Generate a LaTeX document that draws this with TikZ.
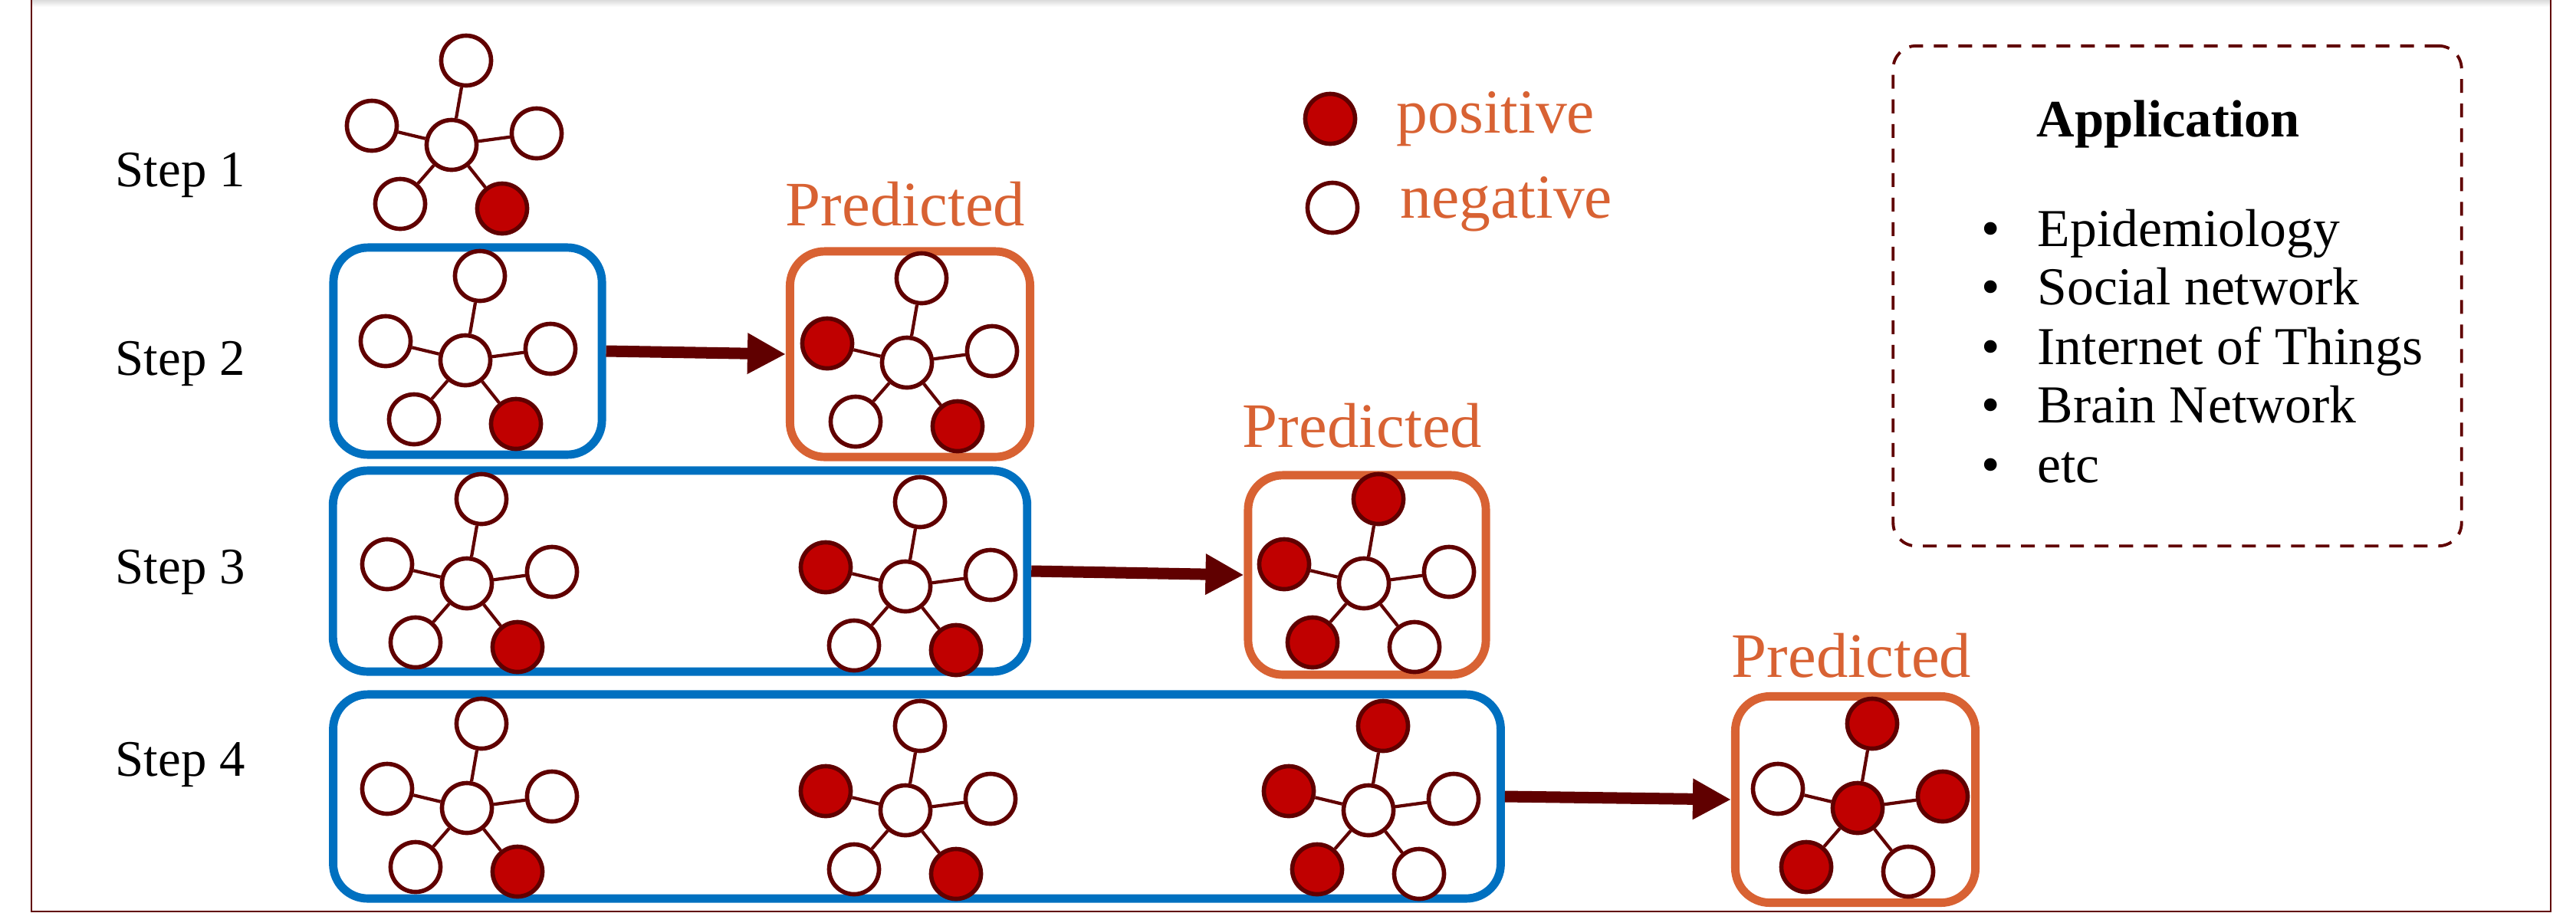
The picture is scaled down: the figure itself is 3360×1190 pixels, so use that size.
\documentclass[tikz,border=0pt]{standalone}
\usepackage{fontspec}
\setmainfont{Liberation Serif}
\usetikzlibrary{calc,arrows.meta}
\definecolor{cdark}{HTML}{600000}
\definecolor{cred}{HTML}{C00000}
\definecolor{cblue}{HTML}{0070C0}
\definecolor{corange}{HTML}{D86233}
\tikzset{
  negnode/.style={circle, draw=cdark, line width=1.6pt, fill=white, minimum size=0.65cm, inner sep=0pt},
  posnode/.style={negnode, fill=cred},
  graphedge/.style={draw=cdark, line width=1.2pt},
  bluebox/.style={draw=cblue, line width=3.1pt, rounded corners=0.45cm, inner sep=0pt},
  orangebox/.style={draw=corange, line width=3.1pt, rounded corners=0.45cm, inner sep=0pt},
  bigarrow/.style={draw=cdark, line width=0.15cm, -{Triangle[length=0.5cm,width=0.5cm]}},
  steplabel/.style={anchor=base west, inner sep=0pt, font=\fontsize{19}{20}\selectfont},
  predlabel/.style={anchor=base, inner sep=0pt, text=corange, font=\fontsize{23.5}{24}\selectfont},
  legendlabel/.style={anchor=base west, inner sep=0pt, text=corange, font=\fontsize{23.2}{24}\selectfont},
  applabel/.style={anchor=base west, inner sep=0pt, font=\fontsize{19.8}{20}\selectfont},
  apptitle/.style={anchor=base, inner sep=0pt, font=\fontsize{19.5}{20}\selectfont\bfseries},
  appbox/.style={draw=cdark, line width=1.1pt, dash pattern=on 0.18cm off 0.14cm, rounded corners=0.3cm, inner sep=0pt},
}
% #1 name, #2 x,y of centre, #3 centre style, #4 top, #5 left, #6 right, #7 bottom-left, #8 bottom-right
\newcommand\stargraph[8]{%
  \node[#3] (#1c) at (#2) {};
  \node[#4] (#1t) at ($(#2)+(19,-110)$) {};
  \node[#5] (#1l) at ($(#2)+(-104,-25)$) {};
  \node[#6] (#1r) at ($(#2)+(111,-15)$) {};
  \node[#7] (#1bl) at ($(#2)+(-67,77)$) {};
  \node[#8] (#1br) at ($(#2)+(66,83)$) {};
  \draw[graphedge] (#1c) -- (#1t);
  \draw[graphedge] (#1c) -- (#1l);
  \draw[graphedge] (#1c) -- (#1r);
  \draw[graphedge] (#1c) -- (#1bl);
  \draw[graphedge] (#1c) -- (#1br);
}
\begin{document}
\begin{tikzpicture}[x=0.01cm, y=-0.01cm]
\useasboundingbox (0,0) rectangle (3360,1190);
% frame
\shade[top color=black!14, bottom color=white] (41,0) rectangle (3327,9);
\draw[cdark, line width=0.7pt] (41,0) -- (41,1189) -- (3327,1189) -- (3327,0);

% step labels
\node[steplabel] (s1) at (150,243) {Step 1};
\node[steplabel] (s2) at (150,489) {Step 2};
\node[steplabel] (s3) at (150,761) {Step 3};
\node[steplabel] (s4) at (150,1012) {Step 4};

% boxes
\node[bluebox, minimum width=3.50cm, minimum height=2.70cm] (b2) at (610,458) {};
\node[orangebox, minimum width=3.13cm, minimum height=2.68cm] (o2) at (1187,462) {};
\node[bluebox, minimum width=9.05cm, minimum height=2.62cm] (b3) at (887,745) {};
\node[orangebox, minimum width=3.10cm, minimum height=2.60cm] (o3) at (1783,750) {};
\node[bluebox, minimum width=15.22cm, minimum height=2.66cm] (b4) at (1196,1039) {};
\node[orangebox, minimum width=3.13cm, minimum height=2.69cm] (o4) at (2420,1043) {};

% predicted labels
\node[predlabel] (p2) at (1181,294) {Predicted};
\node[predlabel] (p3) at (1777,583) {Predicted};
\node[predlabel] (p4) at (2415,883) {Predicted};

% arrows
\draw[bigarrow] (b2.east) -- (o2.west);
\draw[bigarrow] (b3.east) -- (o3.west);
\draw[bigarrow] (b4.east) -- (o4.west);

% graphs
\stargraph{ga}{589,189}{negnode}{negnode}{negnode}{negnode}{negnode}{posnode}
\stargraph{gb}{607,470}{negnode}{negnode}{negnode}{negnode}{negnode}{posnode}
\stargraph{gc}{1183,473}{negnode}{negnode}{posnode}{negnode}{negnode}{posnode}
\stargraph{gd}{609,761}{negnode}{negnode}{negnode}{negnode}{negnode}{posnode}
\stargraph{ge}{1181,765}{negnode}{negnode}{posnode}{negnode}{negnode}{posnode}
\stargraph{gf}{1779,761}{negnode}{posnode}{posnode}{negnode}{posnode}{negnode}
\stargraph{gg}{609,1054}{negnode}{negnode}{negnode}{negnode}{negnode}{posnode}
\stargraph{gh}{1181,1057}{negnode}{negnode}{posnode}{negnode}{negnode}{posnode}
\stargraph{gi}{1785,1057}{negnode}{posnode}{posnode}{negnode}{posnode}{negnode}
\stargraph{gj}{2423,1054}{posnode}{posnode}{negnode}{posnode}{posnode}{negnode}

% legend
\node[posnode] (lp) at (1735,155) {};
\node[negnode] (ln) at (1738,271) {};
\node[legendlabel] (lpt) at (1821,173) {positive};
\node[legendlabel] (lnt) at (1826,284) {negative};

% application box
\node[appbox, minimum width=7.41cm, minimum height=6.52cm] (ab) at (2840,386) {};
\node[apptitle] (at) at (2828,178) {Application};
\node[applabel] (a1) at (2584,321) {\makebox[0.73cm][l]{\textbullet}Epidemiology};
\node[applabel] (a2) at (2584,397) {\makebox[0.73cm][l]{\textbullet}Social network};
\node[applabel] (a3) at (2584,475) {\makebox[0.73cm][l]{\textbullet}Internet of Things};
\node[applabel] (a4) at (2584,551) {\makebox[0.73cm][l]{\textbullet}Brain Network};
\node[applabel] (a5) at (2584,629) {\makebox[0.73cm][l]{\textbullet}etc};
\end{tikzpicture}
\end{document}
